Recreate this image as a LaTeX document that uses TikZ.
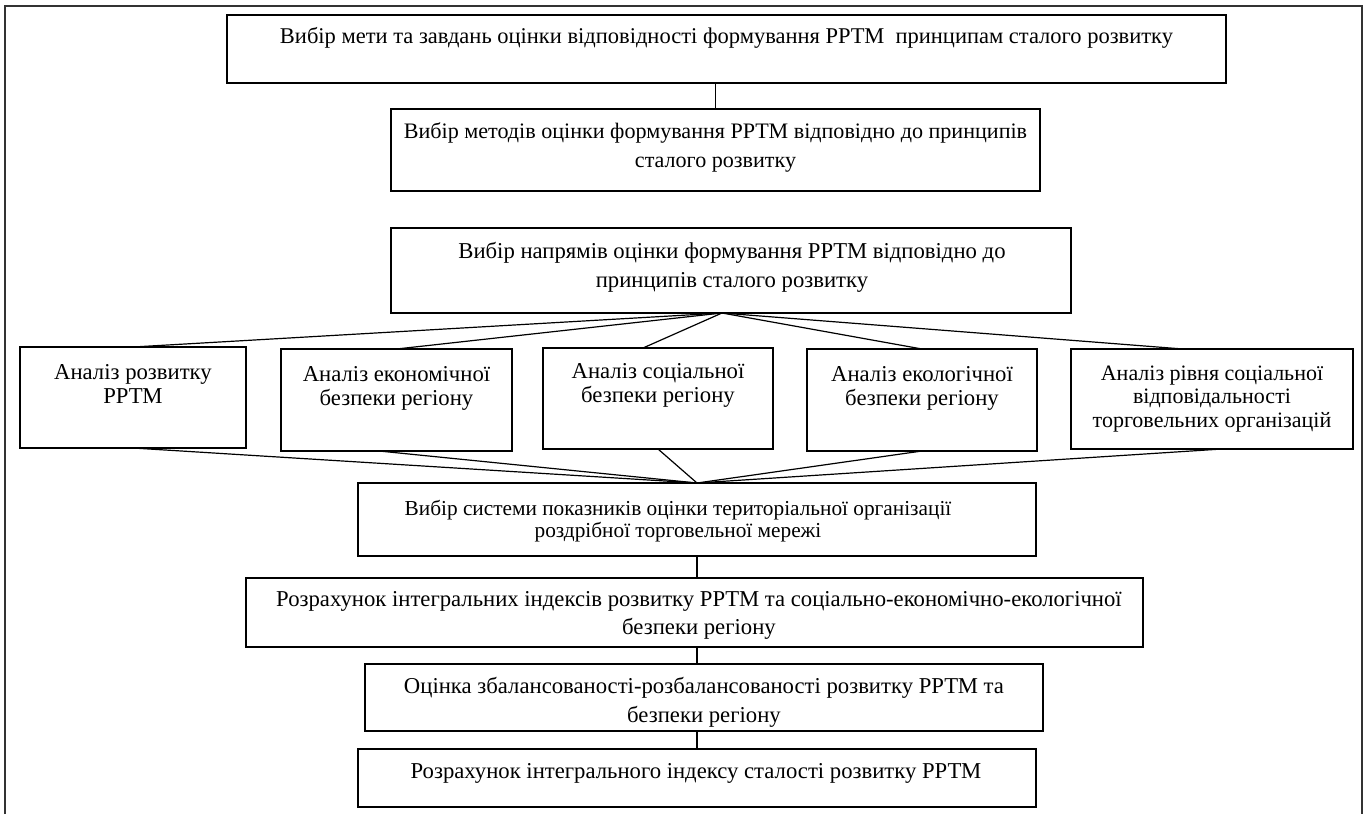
\documentclass[tikz,border=0pt]{standalone}
\usepackage{fontspec}
\setmainfont{Liberation Serif}
\usetikzlibrary{calc}
\tikzset{
  boxst/.style={draw, line width=1.2pt, inner sep=0pt, outer sep=0pt, rectangle},
  txt/.style={inner sep=0pt, outer sep=0pt, align=center, anchor=north},
  conn/.style={line width=1.2pt},
  frame/.style={line width=1.4pt, draw=black!80},
}
% name, x1, y1, x2, y2
\newcommand\mkbox[5]{\node[boxst, minimum width={#4pt-#2pt}, minimum height={#5pt-#3pt}] (#1) at ({(#2+#4)/2},{(#3+#5)/2}) {};}
% name, cx, size, skip, baseline, text
\newcommand\mktext[6]{\node[txt, font=\fontsize{#3}{#4}\selectfont] (#1t) at (#2,{#5-0.7*#4}) {\strut #6};}
\begin{document}
\begin{tikzpicture}[x=1pt,y=-1pt]
\useasboundingbox (0,0) rectangle (1368,814);
% outer frame
\coordinate (fl) at (5,814);
\coordinate (fr) at (1362,814);
\draw[frame] (fl) -- (5,6) -- (1362,6) -- (fr);

% boxes
\mkbox{b1}{227}{15}{1226}{83}
\mktext{b1}{726.5}{22.5}{25}{43}{Вибір мети та завдань оцінки відповідності формування РРТМ\ \ принципам сталого розвитку}

\mkbox{b2}{391}{109}{1040}{191}
\mktext{b2}{715.5}{22.1}{29}{138}{Вибір методів оцінки формування РРТМ відповідно до принципів\\ сталого розвитку}

\mkbox{b3}{391}{228}{1071}{313}
\mktext{b3}{732}{22.7}{29}{258}{Вибір напрямів оцінки формування РРТМ відповідно до\\ принципів сталого розвитку}

\mkbox{bA}{20}{347}{246}{448}
\mktext{bA}{133}{22.7}{24}{379}{Аналіз розвитку\\ РРТМ}

\mkbox{bB}{281}{349}{512}{451}
\mktext{bB}{396.5}{22.7}{24}{381}{Аналіз економічної\\ безпеки регіону}

\mkbox{bC}{543}{348}{773}{449}
\mktext{bC}{658}{22.7}{24}{378}{Аналіз соціальної\\ безпеки регіону}

\mkbox{bD}{807}{349}{1037}{451}
\mktext{bD}{922}{22.7}{24}{381}{Аналіз екологічної\\ безпеки регіону}

\mkbox{bE}{1071}{349}{1353}{449}
\mktext{bE}{1212}{22}{23.5}{380}{Аналіз рівня соціальної\\ відповідальності\\ торговельних організацій}

\mkbox{bF}{358}{483}{1036}{556}
\mktext{bF}{678}{21.3}{22}{515}{Вибір системи показників оцінки територіальної організації\\ роздрібної торговельної мережі}

\mkbox{bG}{246}{578}{1143}{647}
\mktext{bG}{699}{22.7}{28.5}{606}{Розрахунок інтегральних індексів розвитку РРТМ та соціально-економічно-екологічної\\ безпеки регіону}

\mkbox{bH}{365}{664}{1043}{731}
\mktext{bH}{704}{22.7}{29}{693}{Оцінка збалансованості-розбалансованості розвитку РРТМ та\\ безпеки регіону}

\mkbox{bI}{358}{749}{1036}{807}
\mktext{bI}{696}{22.7}{25}{778}{Розрахунок інтегрального індексу сталості розвитку РРТМ}

% connectors
\draw[conn] (b2.north) -- (b2.north |- b1.south);
\coordinate (ap) at (722,313);
\coordinate (cTop) at (643,348);
\coordinate (eTop) at (1183,349);
\draw[conn] (ap) -- (bA.north);
\draw[conn] (ap) -- (bB.north);
\draw[conn] (ap) -- (cTop);
\draw[conn] (ap) -- (bD.north);
\draw[conn] (ap) -- (eTop);

\coordinate (bBot) at (379,451);
\coordinate (eBot) at (1222,449);
\draw[conn] (bA.south) -- (bF.north);
\draw[conn] (bBot) -- (bF.north);
\draw[conn] (bC.south) -- (bF.north);
\draw[conn] (bD.south) -- (bF.north);
\draw[conn] (eBot) -- (bF.north);

\draw[conn] (bF.south) -- (bF.south |- bG.north);
\draw[conn] (bF.south |- bG.south) -- (bF.south |- bH.north);
\draw[conn] (bI.north) -- (bI.north |- bH.south);
\end{tikzpicture}
\end{document}
